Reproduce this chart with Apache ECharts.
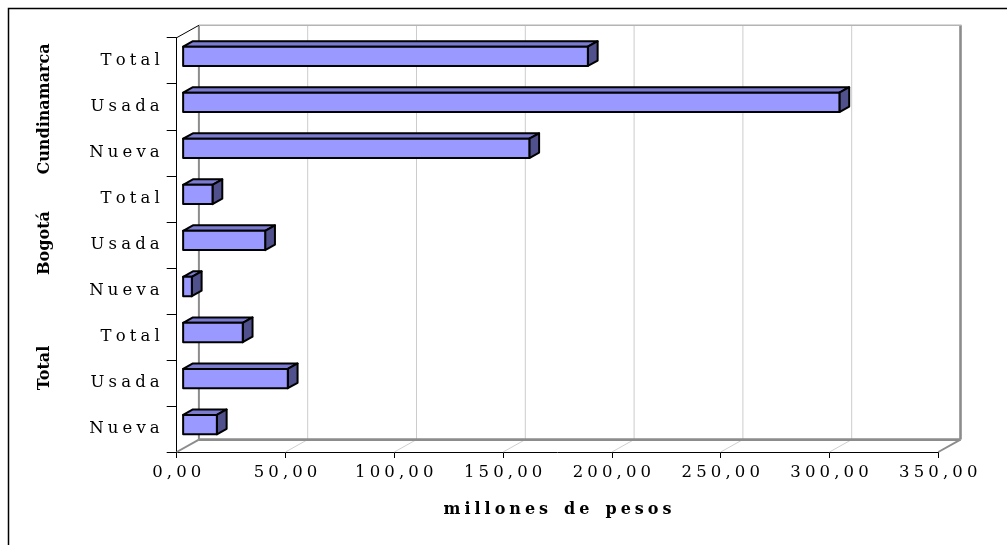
<!DOCTYPE html>
<html>
<head>
<meta charset="utf-8">
<script src="https://cdn.jsdelivr.net/npm/echarts@6/dist/echarts.min.js"></script>
<style>
html,body{margin:0;padding:0;background:#fff;}
#chart{width:1007px;height:545px;}
</style>
</head>
<body>
<div id="chart"></div>
<script>
// ---- data ----
const categories = ['Nueva', 'Usada', 'Total', 'Nueva', 'Usada', 'Total', 'Nueva', 'Usada', 'Total'];
const groups = ['Total', 'Bogotá', 'Cundinamarca'];
const values = [15.5, 48.1, 27.4, 4.0, 37.7, 13.5, 159.1, 301.6, 186.0];
const xMin = 0, xMax = 350, xStep = 50;
const xTicks = [0, 50, 100, 150, 200, 250, 300, 350];
const axisTitle = 'millones de pesos';

// ---- style ----
const FONT = 'DejaVu Serif';
const DX = 22.2, DY = -12.4;   // depth of the 3D box
const GAP = '\u2005';
const spaced = s => String(s).split('').map(ch => ch === ' ' ? GAP + GAP : ch).join(GAP);
const fmtNum = v => spaced(v.toFixed(2).replace('.', ','));

const chart = echarts.init(document.getElementById('chart'), null, {renderer: 'canvas'});

function wallItem(params, api) {
  const v = api.value(0);
  const cs = params.coordSys;
  const x = api.coord([v, 0])[0];
  const top = cs.y, bottom = cs.y + cs.height;
  const isMin = v === xMin, isMax = v === xMax;
  const edge = isMin || isMax;
  return {
    type: 'group',
    children: [
      {type: 'line', shape: {x1: x, y1: bottom, x2: x + DX, y2: bottom + DY},
        style: {stroke: edge ? '#8c8c8c' : '#d0d0d0', lineWidth: edge ? 2 : 1}},
      {type: 'line', shape: {x1: x + DX, y1: bottom + DY, x2: x + DX, y2: top + DY},
        style: {stroke: edge ? '#8c8c8c' : '#cccccc', lineWidth: isMax ? 2.6 : (isMin ? 2 : 1)}}
    ]
  };
}

function frameItem(params, api) {
  const cs = params.coordSys;
  const x0 = api.coord([xMin, 0])[0];
  const x1 = api.coord([xMax, 0])[0];
  const top = cs.y, bottom = cs.y + cs.height;
  return {
    type: 'group',
    children: [
      {type: 'line', shape: {x1: x0 + DX, y1: bottom + DY, x2: x1 + DX, y2: bottom + DY},
        style: {stroke: '#8c8c8c', lineWidth: 2.6}},
      {type: 'line', shape: {x1: x0 + DX, y1: top + DY, x2: x1 + DX + 1, y2: top + DY},
        style: {stroke: '#b4b4b4', lineWidth: 1.6}},
      {type: 'line', shape: {x1: x0, y1: top, x2: x0 + DX, y2: top + DY},
        style: {stroke: '#000', lineWidth: 1}}
    ]
  };
}

function barItem(params, api) {
  const v = api.value(0), c = api.value(1);
  const p0 = api.coord([0, c]);
  const p1 = api.coord([v, c]);
  const band = api.size([0, 1])[1];
  const h = band * 0.42;
  const fx = DX * 0.29, fy = DY * 0.29;
  const dx = DX * 0.44, dy = DY * 0.44;
  const xa = p0[0] + fx, xb = p1[0] + fx;
  const yc = p0[1] + fy - 0.8;
  const yt = yc - h / 2, yb = yc + h / 2;
  const stroke = {stroke: '#000', lineWidth: 2, lineJoin: 'round'};
  return {
    type: 'group',
    children: [
      {type: 'polygon', shape: {points: [[xa, yt], [xb, yt], [xb + dx, yt + dy], [xa + dx, yt + dy]]},
        style: Object.assign({fill: '#7b7bd2'}, stroke)},
      {type: 'polygon', shape: {points: [[xb, yt], [xb + dx, yt + dy], [xb + dx, yb + dy], [xb, yb]]},
        style: Object.assign({fill: '#50508c'}, stroke)},
      {type: 'rect', shape: {x: xa, y: yt, width: xb - xa, height: h},
        style: Object.assign({fill: '#9999ff'}, stroke)}
    ]
  };
}

const option = {
  backgroundColor: '#ffffff',
  animation: false,
  textStyle: {fontFamily: FONT},
  grid: {left: 176.7, right: 68.7, top: 37.7, bottom: 93, containLabel: false},
  xAxis: {
    type: 'value', min: xMin, max: xMax, interval: xStep,
    axisLine: {show: true, lineStyle: {color: '#000', width: 1}},
    axisTick: {show: true, length: 6, lineStyle: {color: '#000'}},
    splitLine: {show: false},
    axisLabel: {formatter: v => fmtNum(v), color: '#000', fontFamily: FONT, fontSize: 16.5, margin: 12},
    name: spaced(axisTitle),
    nameLocation: 'middle', nameGap: 50,
    nameTextStyle: {fontFamily: FONT, fontWeight: 'bold', fontSize: 16, color: '#000'}
  },
  yAxis: {
    type: 'category', data: categories,
    axisLine: {show: true, lineStyle: {color: '#000', width: 1}},
    axisTick: {show: true, length: 10, alignWithLabel: false, lineStyle: {color: '#000'}},
    axisLabel: {formatter: s => spaced(s), color: '#000', fontFamily: FONT, fontSize: 16.5, margin: 17},
    splitLine: {show: false}
  },
  graphic: [
    {type: 'rect', z: -10, shape: {x: 8.5, y: 8.5, width: 1100, height: 600},
      style: {fill: null, stroke: '#000', lineWidth: 1.5}},
    {type: 'text', x: 45, y: 109, rotation: Math.PI / 2,
      style: {text: groups[2], fontFamily: FONT, fontWeight: 'bold', fontSize: 16, fill: '#000', align: 'center', verticalAlign: 'middle'}},
    {type: 'text', x: 45, y: 243, rotation: Math.PI / 2,
      style: {text: groups[1], fontFamily: FONT, fontWeight: 'bold', fontSize: 16, fill: '#000', align: 'center', verticalAlign: 'middle'}},
    {type: 'text', x: 45, y: 368, rotation: Math.PI / 2,
      style: {text: groups[0], fontFamily: FONT, fontWeight: 'bold', fontSize: 16, fill: '#000', align: 'center', verticalAlign: 'middle'}}
  ],
  series: [
    {type: 'custom', name: 'walls', z: 1, silent: true, renderItem: wallItem,
      data: xTicks.map(v => [v, 0]), encode: {x: 0, y: 1}},
    {type: 'custom', name: 'frame', z: 1, silent: true, renderItem: frameItem,
      data: [[0, 0]], encode: {x: 0, y: 1}},
    {type: 'custom', name: 'bars', z: 5, renderItem: barItem,
      data: values.map((v, i) => [v, i]), encode: {x: 0, y: 1}}
  ]
};
chart.setOption(option);
</script>
</body>
</html>
